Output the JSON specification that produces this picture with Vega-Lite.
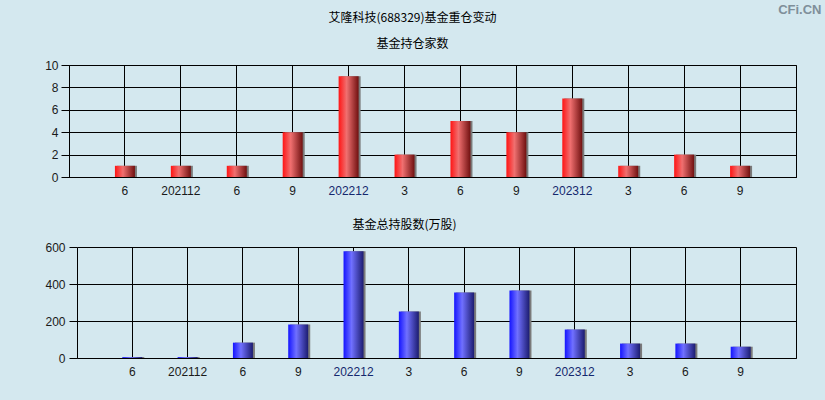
{
  "$schema": "https://vega.github.io/schema/vega-lite/v6.json",
  "background": "#d4e8ef",
  "padding": {"left": 44, "top": 3, "right": 29, "bottom": 24},
  "title": {
    "text": "CFi.CN",
    "font": "Liberation Sans",
    "fontSize": 13,
    "fontWeight": "bold",
    "color": "#7f8f9a",
    "anchor": "end",
    "frame": "bounds",
    "dx": 25,
    "offset": -5
  },
  "config": {
    "view": {"stroke": "#000000", "strokeWidth": 1},
    "axis": {
      "labelFont": "Liberation Sans",
      "labelFontSize": 12,
      "labelColor": "#1a1a1a",
      "domainColor": "#000000",
      "tickColor": "#000000",
      "gridColor": "#000000",
      "gridOpacity": 1,
      "gridWidth": 1,
      "title": null
    },
    "title": {"font": "Noto Sans CJK SC", "fontSize": 12, "fontWeight": "normal", "color": "#000000", "subtitleFont": "Noto Sans CJK SC", "subtitleFontSize": 12, "subtitleColor": "#000000"}
  },
  "datasets": {
    "funds": [
      {"period": "2021-06", "count": 1, "shares": 5},
      {"period": "2021-12", "count": 1, "shares": 5},
      {"period": "2022-06", "count": 1, "shares": 83},
      {"period": "2022-09", "count": 4, "shares": 181},
      {"period": "2022-12", "count": 9, "shares": 577},
      {"period": "2023-03", "count": 2, "shares": 251},
      {"period": "2023-06", "count": 5, "shares": 354},
      {"period": "2023-09", "count": 4, "shares": 365},
      {"period": "2023-12", "count": 7, "shares": 154},
      {"period": "2024-03", "count": 1, "shares": 78},
      {"period": "2024-06", "count": 2, "shares": 78},
      {"period": "2024-09", "count": 1, "shares": 61}
    ]
  },
  "spacing": 22,
  "vconcat": [
    {
      "width": 727,
      "height": 112,
      "title": {"text": "艾隆科技(688329)基金重仓变动", "subtitle": "基金持仓家数", "subtitlePadding": 14, "frame": "group", "anchor": "middle", "dx": -20, "offset": 8},
      "data": {"name": "funds"},
      "encoding": {
        "x": {
          "field": "period",
          "type": "ordinal",
          "sort": null,
          "scale": {"paddingInner": 0, "paddingOuter": 0.5},
          "axis": {
            "bandPosition": 0.5,
            "grid": true,
            "ticks": false,
            "labelAngle": 0,
            "labelPadding": 8,
            "labelExpr": "slice(datum.value, 5) == '12' ? replace(datum.value, '-', '') : '' + toNumber(slice(datum.value, 5))",
            "labelColor": {"condition": {"test": "slice(datum.value, 5) == '12' && datum.value != '2021-12'", "value": "#14286e"}, "value": "#1a1a1a"}
          }
        },
        "y": {
          "field": "count",
          "type": "quantitative",
          "scale": {"domain": [0, 10]},
          "axis": {"values": [0, 2, 4, 6, 8, 10], "tickSize": 8, "labelPadding": 3, "grid": true}
        }
      },
      "layer": [
        {"mark": {"type": "bar", "width": 20, "color": "#7a7a7a", "xOffset": 2}},
        {
          "mark": {
            "type": "bar",
            "width": 20,
            "color": {
              "gradient": "linear", "x1": 0, "y1": 0, "x2": 1, "y2": 0,
              "stops": [
                {"offset": 0, "color": "#ff1414"},
                {"offset": 0.4, "color": "#f07070"},
                {"offset": 1, "color": "#701010"}
              ]
            }
          }
        }
      ]
    },
    {
      "width": 727,
      "height": 111,
      "view": {"stroke": null},
      "title": {"text": "基金总持股数(万股)", "frame": "group", "anchor": "middle", "dx": -28, "offset": 9},
      "data": {"name": "funds"},
      "encoding": {
        "x": {
          "field": "period",
          "type": "ordinal",
          "sort": null,
          "scale": {"paddingInner": 0, "paddingOuter": 0.5, "range": [8, 727]},
          "axis": {
            "bandPosition": 0.5,
            "grid": true,
            "ticks": false,
            "labelAngle": 0,
            "labelPadding": 8,
            "labelExpr": "slice(datum.value, 5) == '12' ? replace(datum.value, '-', '') : '' + toNumber(slice(datum.value, 5))",
            "labelColor": {"condition": {"test": "slice(datum.value, 5) == '12' && datum.value != '2021-12'", "value": "#14286e"}, "value": "#1a1a1a"}
          }
        }
      },
      "layer": [
        {
          "mark": {"type": "bar", "width": 20, "color": "#7a7a7a", "xOffset": 2},
          "encoding": {
            "y": {
              "field": "shares",
              "type": "quantitative",
              "scale": {"domain": [0, 600]},
              "axis": {"values": [0, 200, 400, 600], "tickSize": 8, "labelPadding": 4, "grid": true, "offset": -8}
            }
          }
        },
        {
          "mark": {
            "type": "bar",
            "width": 20,
            "color": {
              "gradient": "linear", "x1": 0, "y1": 0, "x2": 1, "y2": 0,
              "stops": [
                {"offset": 0, "color": "#1414ff"},
                {"offset": 0.4, "color": "#7070ff"},
                {"offset": 1, "color": "#1c1c70"}
              ]
            }
          },
          "encoding": {
            "y": {
              "field": "shares",
              "type": "quantitative",
              "scale": {"domain": [0, 600]},
              "axis": {"orient": "right", "labels": false, "ticks": false, "grid": false, "domain": true}
            }
          }
        }
      ],
      "resolve": {"scale": {"y": "independent"}}
    }
  ]
}
